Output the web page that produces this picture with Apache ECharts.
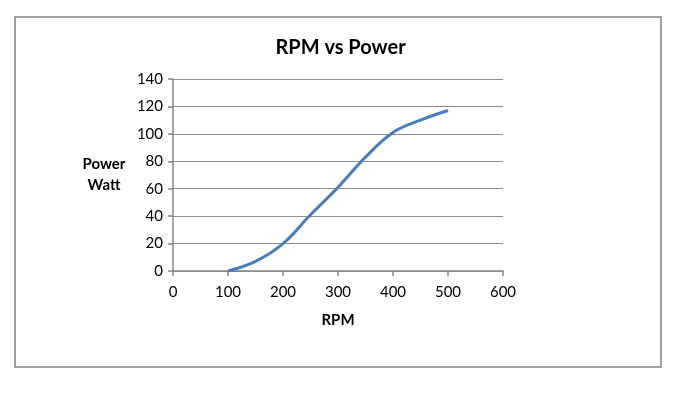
<!DOCTYPE html>
<html>
<head>
<meta charset="utf-8">
<script src="https://cdn.jsdelivr.net/npm/echarts@6/dist/echarts.min.js"></script>
<style>
  html, body { margin: 0; padding: 0; background: #fff; }
  #chart { width: 681px; height: 397px; }
</style>
</head>
<body>
<div id="chart"></div>
<script>
const rpm = [100, 150, 200, 250, 300, 350, 400, 450, 500];
const power = [0, 7, 20, 41, 61, 83, 101, 110, 117];

const FONT = "Lato, 'Open Sans', sans-serif";
const chart = echarts.init(document.getElementById("chart"));

chart.setOption({
  animation: false,
  backgroundColor: "#fff",
  title: {
    text: "RPM vs Power",
    left: "center",
    top: 33,
    textStyle: { fontFamily: FONT, fontSize: 20, fontWeight: "bold", color: "#000" }
  },
  graphic: [{
    type: "rect",
    shape: { x: 15, y: 17, width: 646, height: 350 },
    style: { fill: "none", stroke: "#a0a0a0", lineWidth: 2 }
  }],
  grid: { left: 173, right: 178, top: 79, bottom: 126 },
  xAxis: {
    type: "value",
    min: 0,
    max: 600,
    interval: 100,
    name: "RPM",
    nameLocation: "middle",
    nameGap: 42,
    nameTextStyle: { fontFamily: FONT, fontSize: 15, fontWeight: "bold", color: "#000" },
    axisLine: { lineStyle: { color: "#868686", width: 1.5 } },
    axisTick: { show: true, length: 5, lineStyle: { color: "#868686", width: 1.5 } },
    axisLabel: { fontFamily: FONT, fontSize: 15, color: "#000", margin: 14 },
    splitLine: { show: false }
  },
  yAxis: {
    type: "value",
    min: 0,
    max: 140,
    interval: 20,
    name: "Power\nWatt",
    nameLocation: "middle",
    nameRotate: 0,
    nameGap: 69,
    nameTextStyle: { fontFamily: FONT, fontSize: 15, fontWeight: "bold", color: "#000", lineHeight: 21, align: "center" },
    axisLine: { show: true, lineStyle: { color: "#868686", width: 1.5 } },
    axisTick: { show: true, length: 5, lineStyle: { color: "#868686", width: 1.5 } },
    axisLabel: { fontFamily: FONT, fontSize: 15, color: "#000", margin: 10 },
    splitLine: { lineStyle: { color: "#8c8c8c", width: 1.2 } }
  },
  series: [{
    type: "line",
    data: rpm.map((x, i) => [x, power[i]]),
    smooth: 0.4,
    showSymbol: false,
    lineStyle: { color: "#4a7ebb", width: 3 }
  }]
});
</script>
</body>
</html>
